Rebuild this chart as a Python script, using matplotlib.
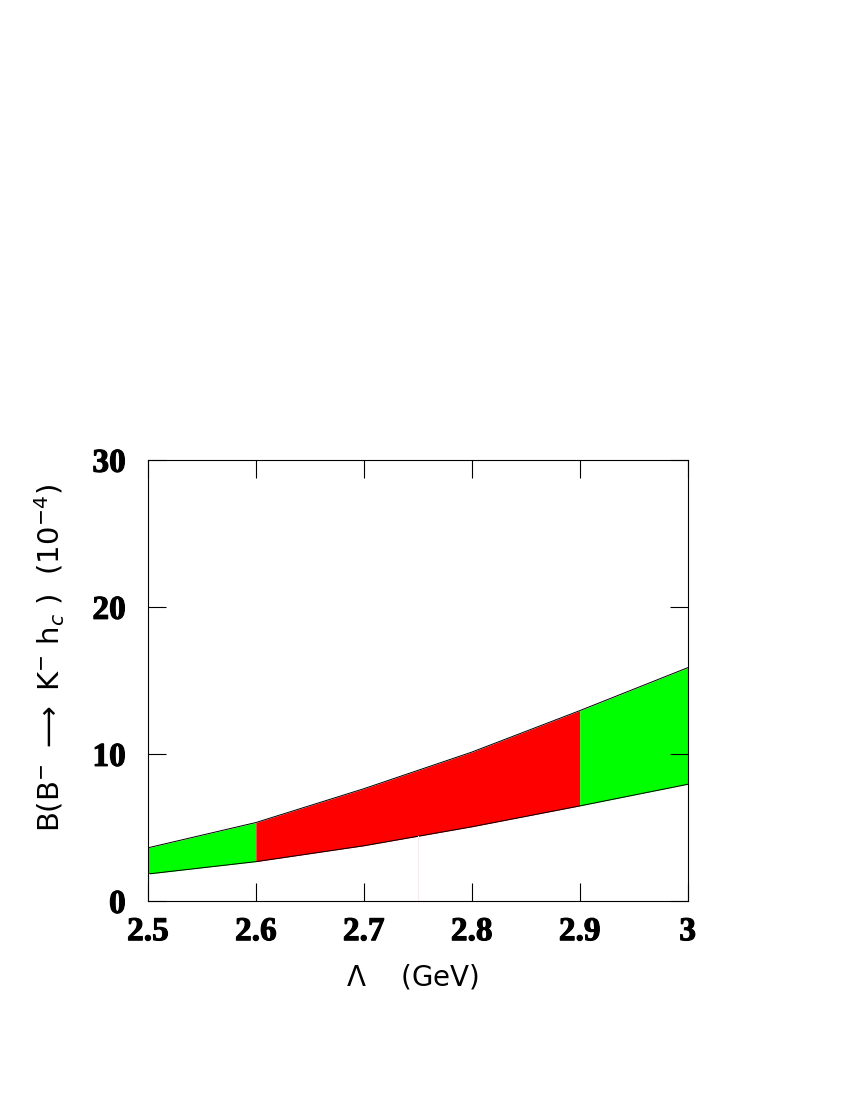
import numpy as np
import matplotlib.pyplot as plt
import matplotlib.patheffects as pe

# Lambda (GeV) and band edges, in units of 1e-4
lam = [2.5, 2.6, 2.7, 2.8, 2.9, 3.0]
upper = [3.61, 5.33, 7.63, 10.12, 12.94, 15.86]
lower = [1.83, 2.67, 3.75, 5.04, 6.46, 7.93]

# central region (red), outer parts green
red_lo, red_hi = 2.6, 2.9

x = np.array(lam)
up = np.array(upper)
lo = np.array(lower)

fig = plt.figure(figsize=(8.5, 11), dpi=100)
ax = fig.add_axes([0.174, 0.181, 0.635, 0.401])

inner = (x >= red_lo) & (x <= red_hi)
left = x <= red_lo
right = x >= red_hi
ax.fill_between(x[left], lo[left], up[left], color='#00ff00', lw=0)
ax.fill_between(x[inner], lo[inner], up[inner], color='#ff0000', lw=0)
ax.fill_between(x[right], lo[right], up[right], color='#00ff00', lw=0)
ax.plot(x, up, color='black', lw=0.7)
ax.plot(x, lo, color='black', lw=0.7)

# faint leftover lines seen in the original
ax.plot([2.75, 2.75], [0, 4.4], color='#f6ecee', lw=0.8)
ax.plot([2.501, 2.501], [0, 1.83], color='#eef9ee', lw=0.8)

ax.set_xlim(2.5, 3.0)
ax.set_ylim(0, 30)
ax.set_xticks([2.5, 2.6, 2.7, 2.8, 2.9, 3.0])
ax.set_xticklabels(['2.5', '2.6', '2.7', '2.8', '2.9', '3'])
ax.set_yticks([0, 10, 20, 30])
ax.tick_params(direction='in', length=13, width=0.8, top=True, right=True)
ax.tick_params(axis='x', pad=11)
ax.tick_params(axis='y', pad=16)
for lab in ax.get_xticklabels() + ax.get_yticklabels():
    lab.set_family('Liberation Serif')
    lab.set_fontweight('bold')
    lab.set_fontsize(24)
    lab.set_path_effects([pe.withStroke(linewidth=0.8, foreground='black')])
for s in ax.spines.values():
    s.set_linewidth(0.8)

ax.set_xlabel(r'$\Lambda$    (GeV)', fontsize=20, family='DejaVu Sans')
ax.xaxis.set_label_coords(0.49, -0.14)
ax.set_ylabel(r'B(B$^{-}$ $\longrightarrow$ K$^{-}$ h$_{c}$ )  (10$^{-4}$)',
              fontsize=21, family='DejaVu Sans')
ax.yaxis.set_label_coords(-0.15, 0.55)

fig.savefig('out.png', dpi=100)
